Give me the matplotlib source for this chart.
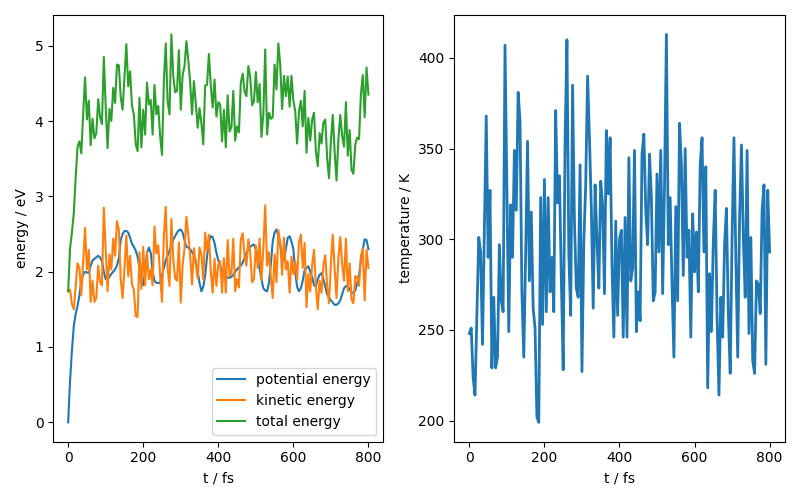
import matplotlib
matplotlib.use("Agg")
import matplotlib.pyplot as plt

# time axis, fs (every 5 fs)
t = list(range(0, 801, 5))

temperature = [
    248, 251, 224, 214, 258, 301, 293, 242, 305, 368, 290, 327, 229, 268, 229, 235,
    297, 266, 260, 407, 327, 249, 319, 290, 349, 316, 381, 365, 271, 235, 292, 354,
    277, 315, 262, 251, 202, 199, 323, 253, 333, 260, 323, 271, 290, 260, 371, 320,
    335, 279, 228, 354, 410, 292, 258, 385, 310, 273, 268, 341, 227, 299, 330, 390,
    356, 317, 262, 330, 300, 273, 332, 319, 270, 360, 325, 356, 286, 246, 310, 258,
    300, 305, 246, 312, 246, 345, 277, 284, 349, 249, 271, 255, 347, 358, 316, 297,
    347, 323, 266, 271, 336, 293, 349, 270, 330, 413, 297, 323, 275, 235, 318, 266,
    364, 341, 280, 350, 290, 305, 246, 314, 282, 304, 271, 341, 356, 293, 340, 218,
    281, 249, 299, 327, 257, 214, 268, 246, 297, 317, 259, 226, 301, 356, 290, 235,
    312, 352, 300, 268, 349, 248, 301, 233, 226, 277, 275, 259, 316, 330, 231, 327,
    293,
]

kinetic = [
    1.74, 1.76, 1.57, 1.50, 1.81, 2.11, 2.05, 1.69, 2.14, 2.58, 2.03, 2.29, 1.60, 1.88, 1.60, 1.65,
    2.08, 1.86, 1.82, 2.85, 2.29, 1.74, 2.23, 2.03, 2.44, 2.21, 2.67, 2.56, 1.90, 1.65, 2.04, 2.48,
    1.94, 2.21, 1.83, 1.76, 1.41, 1.40, 2.26, 1.77, 2.33, 1.82, 2.26, 1.90, 2.03, 1.82, 2.60, 2.24,
    2.35, 1.95, 1.60, 2.48, 2.86, 2.04, 1.81, 2.70, 2.17, 1.91, 1.88, 2.39, 1.59, 2.09, 2.31, 2.73,
    2.49, 2.22, 1.83, 2.31, 2.10, 1.91, 2.32, 2.23, 1.89, 2.52, 2.28, 2.49, 2.00, 1.72, 2.17, 1.81,
    2.10, 2.14, 1.72, 2.18, 1.72, 2.42, 1.94, 1.99, 2.44, 1.74, 1.90, 1.79, 2.43, 2.51, 2.21, 2.08,
    2.43, 2.26, 1.86, 1.90, 2.35, 2.05, 2.44, 1.89, 2.31, 2.88, 2.08, 2.26, 1.93, 1.65, 2.23, 1.86,
    2.55, 2.39, 1.96, 2.45, 2.03, 2.14, 1.72, 2.20, 1.97, 2.13, 1.90, 2.39, 2.49, 2.05, 2.38, 1.53,
    1.97, 1.74, 2.09, 2.29, 1.80, 1.50, 1.88, 1.72, 2.08, 2.22, 1.81, 1.58, 2.11, 2.49, 2.03, 1.65,
    2.18, 2.46, 2.10, 1.88, 2.44, 1.74, 2.11, 1.63, 1.58, 1.94, 1.93, 1.81, 2.21, 2.31, 1.62, 2.29,
    2.05,
]

potential = [
    0.00, 0.55, 0.95, 1.28, 1.44, 1.55, 1.68, 1.88, 1.96, 2.00, 1.99, 1.98, 2.08, 2.15, 2.17, 2.19,
    2.21, 2.19, 2.14, 2.00, 1.90, 1.90, 1.93, 1.97, 2.00, 2.03, 2.08, 2.18, 2.42, 2.50, 2.54, 2.54,
    2.52, 2.45, 2.37, 2.33, 2.28, 2.20, 2.05, 1.88, 1.82, 2.00, 2.25, 2.32, 2.25, 2.00, 1.88, 1.85,
    1.85, 1.85, 1.95, 2.05, 2.15, 2.22, 2.28, 2.35, 2.43, 2.47, 2.52, 2.55, 2.56, 2.52, 2.42, 2.33,
    2.32, 2.30, 2.26, 2.22, 2.14, 2.00, 1.85, 1.74, 1.80, 1.95, 2.20, 2.40, 2.47, 2.46, 2.38, 2.25,
    2.15, 2.08, 2.01, 1.97, 1.93, 1.92, 1.92, 1.93, 1.96, 2.00, 2.03, 2.06, 2.08, 2.12, 2.18, 2.25,
    2.30, 2.33, 2.35, 2.36, 2.30, 2.20, 2.05, 1.90, 1.78, 1.75, 1.74, 1.85, 2.10, 2.40, 2.52, 2.56,
    2.48, 2.36, 2.20, 2.15, 2.30, 2.45, 2.47, 2.40, 2.30, 2.00, 1.80, 1.74, 1.78, 1.88, 2.02, 2.05,
    2.07, 2.00, 1.93, 1.82, 1.80, 1.90, 1.96, 1.98, 1.90, 1.80, 1.70, 1.66, 1.62, 1.59, 1.56, 1.56,
    1.58, 1.62, 1.70, 1.78, 1.81, 1.80, 1.77, 1.72, 1.72, 1.75, 1.85, 1.95, 2.15, 2.30, 2.43, 2.42,
    2.30,
]

total = [
    1.74, 2.31, 2.52, 2.78, 3.25, 3.66, 3.73, 3.57, 4.10, 4.58, 4.02, 4.27, 3.68, 4.03, 3.77, 3.84,
    4.29, 4.05, 3.96, 4.85, 4.19, 3.64, 4.16, 4.00, 4.44, 4.24, 4.75, 4.74, 4.32, 4.15, 4.58, 5.02,
    4.46, 4.66, 4.20, 4.09, 3.69, 3.60, 4.31, 3.65, 4.15, 3.82, 4.51, 4.22, 4.28, 3.82, 4.48, 4.09,
    4.20, 3.80, 3.55, 4.53, 5.03, 4.26, 4.09, 5.15, 4.60, 4.38, 4.40, 4.94, 4.15, 4.61, 4.73, 5.06,
    4.81, 4.52, 4.09, 4.53, 4.24, 3.91, 4.17, 3.97, 3.69, 4.47, 4.48, 4.89, 4.47, 4.18, 4.55, 4.06,
    4.25, 4.22, 3.73, 4.15, 3.65, 4.34, 3.86, 3.92, 4.40, 3.74, 3.93, 3.85, 4.51, 4.63, 4.39, 4.33,
    4.73, 4.59, 4.21, 4.26, 4.65, 4.25, 4.49, 3.79, 4.09, 4.95, 3.82, 4.11, 4.03, 4.05, 4.75, 4.42,
    5.03, 4.75, 4.16, 4.60, 4.33, 4.59, 4.19, 4.60, 4.27, 4.13, 3.70, 4.13, 4.27, 3.93, 4.40, 3.58,
    4.04, 3.74, 4.02, 4.11, 3.60, 3.40, 3.84, 3.70, 3.98, 4.02, 3.51, 3.24, 3.73, 4.08, 3.59, 3.21,
    3.76, 4.08, 3.80, 3.66, 4.25, 3.54, 3.88, 3.35, 3.30, 3.69, 3.78, 3.76, 4.36, 4.61, 4.05, 4.71,
    4.35,
]

fig, (ax1, ax2) = plt.subplots(1, 2, figsize=(8, 5), dpi=100)

ax1.plot(t, potential, label="potential energy")
ax1.plot(t, kinetic, label="kinetic energy")
ax1.plot(t, total, label="total energy")
ax1.set_xlabel("t / fs")
ax1.set_ylabel("energy / eV")
ax1.legend(loc="lower right")

ax2.plot(t, temperature, lw=2)
ax2.set_xlabel("t / fs")
ax2.set_ylabel("temperature / K")

fig.tight_layout()
fig.savefig("out.png")
